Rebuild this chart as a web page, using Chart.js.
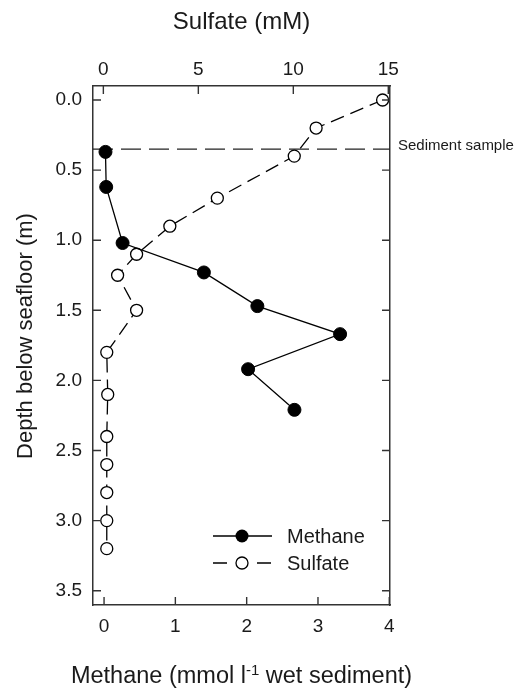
<!DOCTYPE html>
<html>
<head>
<meta charset="utf-8">
<script src="https://cdn.jsdelivr.net/npm/chart.js@4/dist/chart.umd.min.js"></script>
<style>
html,body{margin:0;padding:0;background:#fff;}
canvas{display:block;}
</style>
</head>
<body>
<canvas id="c" width="521" height="691"></canvas>
<script>
// ---- data ----
const methaneDepth = [0.37, 0.62, 1.02, 1.23, 1.47, 1.67, 1.92, 2.21];
const methaneConc  = [0.02, 0.03, 0.26, 1.40, 2.15, 3.31, 2.02, 2.67];
const sulfateDepth = [0.0, 0.2, 0.4, 0.7, 0.9, 1.1, 1.25, 1.5, 1.8, 2.1, 2.4, 2.6, 2.8, 3.0, 3.2];
const sulfateConc  = [14.7, 11.2, 10.05, 6.0, 3.5, 1.75, 0.75, 1.75, 0.18, 0.23, 0.18, 0.18, 0.18, 0.18, 0.18];
const depthTicks   = [0.0, 0.5, 1.0, 1.5, 2.0, 2.5, 3.0, 3.5];
const methaneTicks = [0, 1, 2, 3, 4];
const sulfateTicks = [0, 5, 10, 15];
const sedimentSampleDepth = 0.35;
const labels = {
  methane: 'Methane', sulfate: 'Sulfate',
  top: 'Sulfate (mM)', left: 'Depth below seafloor (m)',
  bottomA: 'Methane (mmol l', bottomSup: '-1', bottomB: ' wet sediment)',
  sample: 'Sediment sample'
};

const FONT = '"Liberation Sans", Arial, Helvetica, sans-serif';
const TXT = '#1a1a1a';
const FRAME = '#333';

const methanePts = methaneDepth.map((d, i) => ({x: methaneConc[i], y: d}));
const sulfatePts = sulfateDepth.map((d, i) => ({x: sulfateConc[i], y: d}));

const setTicks = arr => s => { s.ticks = arr.map(v => ({value: v})); };
const border = {display: true, color: FRAME, width: 1.5};
const tickFont = {family: FONT, size: 19};

const decor = {
  id: 'decor',
  beforeDatasetsDraw(chart) {
    const ctx = chart.ctx, a = chart.chartArea, y = chart.scales.y;
    const py = y.getPixelForValue(sedimentSampleDepth);
    ctx.save();
    ctx.strokeStyle = '#222'; ctx.lineWidth = 1.2; ctx.setLineDash([20, 8]);
    ctx.beginPath(); ctx.moveTo(a.left, py); ctx.lineTo(a.right, py); ctx.stroke();
    ctx.setLineDash([]);
    ctx.fillStyle = TXT; ctx.font = '15px ' + FONT; ctx.textAlign = 'left'; ctx.textBaseline = 'alphabetic';
    ctx.fillText(labels.sample, a.right + 8, py + 0.5);
    ctx.restore();
  },
  afterDraw(chart) {
    const ctx = chart.ctx, a = chart.chartArea, sc = chart.scales, L = 8;
    ctx.save();
    // inward ticks
    ctx.strokeStyle = FRAME; ctx.lineWidth = 1.4;
    ctx.beginPath();
    sc.x.ticks.forEach(t => { const p = sc.x.getPixelForValue(t.value); ctx.moveTo(p, a.bottom); ctx.lineTo(p, a.bottom - L); });
    sc.x2.ticks.forEach(t => { const p = sc.x2.getPixelForValue(t.value); ctx.moveTo(p, a.top); ctx.lineTo(p, a.top + L); });
    sc.y.ticks.forEach(t => { const p = sc.y.getPixelForValue(t.value); ctx.moveTo(a.left, p); ctx.lineTo(a.left + L, p); });
    sc.y2.ticks.forEach(t => { const p = sc.y2.getPixelForValue(t.value); ctx.moveTo(a.right, p); ctx.lineTo(a.right - L, p); });
    ctx.stroke();

    // axis titles
    ctx.fillStyle = TXT; ctx.textBaseline = 'alphabetic';
    const cx = (a.left + a.right) / 2;
    ctx.font = '24px ' + FONT; ctx.textAlign = 'center';
    ctx.fillText(labels.top, cx, 29);

    // bottom title with superscript
    const mainF = '23.5px ' + FONT, supF = '15px ' + FONT;
    ctx.font = mainF; const wA = ctx.measureText(labels.bottomA).width; const wB = ctx.measureText(labels.bottomB).width;
    ctx.font = supF; const wS = ctx.measureText(labels.bottomSup).width;
    let x0 = cx - (wA + wS + wB) / 2; const by = 683;
    ctx.textAlign = 'left';
    ctx.font = mainF; ctx.fillText(labels.bottomA, x0, by); x0 += wA;
    ctx.font = supF; ctx.fillText(labels.bottomSup, x0, by - 8); x0 += wS;
    ctx.font = mainF; ctx.fillText(labels.bottomB, x0, by);

    // left title
    ctx.save();
    ctx.translate(31.5, 336); ctx.rotate(-Math.PI / 2);
    ctx.font = '22px ' + FONT; ctx.textAlign = 'center';
    ctx.fillText(labels.left, 0, 0);
    ctx.restore();

    // legend
    const ds = chart.data.datasets;
    const lx = 242, rows = [536, 563];
    ctx.lineWidth = 1.3; ctx.strokeStyle = '#000';
    // methane row
    ctx.beginPath(); ctx.moveTo(213, rows[0]); ctx.lineTo(272, rows[0]); ctx.stroke();
    ctx.beginPath(); ctx.arc(lx, rows[0], ds[0].pointRadius, 0, Math.PI * 2); ctx.fillStyle = '#000'; ctx.fill();
    // sulfate row
    ctx.beginPath(); ctx.moveTo(213, rows[1]); ctx.lineTo(227, rows[1]); ctx.moveTo(257, rows[1]); ctx.lineTo(271, rows[1]); ctx.stroke();
    ctx.beginPath(); ctx.arc(lx, rows[1], ds[1].pointRadius, 0, Math.PI * 2); ctx.fillStyle = '#fff'; ctx.fill(); ctx.stroke();
    ctx.fillStyle = TXT; ctx.font = '20px ' + FONT; ctx.textAlign = 'left'; ctx.textBaseline = 'middle';
    ctx.fillText(ds[0].label, 287, rows[0] + 1);
    ctx.fillText(ds[1].label, 287, rows[1] + 1);
    ctx.restore();
  }
};

new Chart(document.getElementById('c'), {
  type: 'scatter',
  data: {
    datasets: [
      {
        label: labels.methane, data: methanePts, xAxisID: 'x', yAxisID: 'y',
        showLine: true, borderColor: '#000', borderWidth: 1.3,
        pointRadius: 6.5, pointBackgroundColor: '#000', pointBorderColor: '#000', pointBorderWidth: 1
      },
      {
        label: labels.sulfate, data: sulfatePts, xAxisID: 'x2', yAxisID: 'y',
        showLine: true, borderColor: '#000', borderWidth: 1.3, borderDash: [14, 7],
        pointRadius: 6, pointBackgroundColor: '#fff', pointBorderColor: '#000', pointBorderWidth: 1.3
      }
    ]
  },
  options: {
    responsive: false, animation: false, devicePixelRatio: 1,
    layout: {padding: 0},
    plugins: {legend: {display: false}, tooltip: {enabled: false}},
    scales: {
      x: {
        type: 'linear', position: 'bottom', min: -0.155, max: 4.01,
        afterBuildTicks: setTicks(methaneTicks),
        afterFit: s => { s.height = 86; },
        grid: {display: false, drawTicks: false}, border,
        ticks: {font: tickFont, color: TXT, padding: 10, maxRotation: 0, callback: v => String(v)}
      },
      x2: {
        type: 'linear', position: 'top', min: -0.545, max: 15.09,
        afterBuildTicks: setTicks(sulfateTicks),
        afterFit: s => { s.height = 86; },
        grid: {display: false, drawTicks: false}, border,
        ticks: {font: tickFont, color: TXT, padding: 5, maxRotation: 0, callback: v => String(v)}
      },
      y: {
        type: 'linear', position: 'left', reverse: true, min: -0.1, max: 3.602,
        afterBuildTicks: setTicks(depthTicks),
        afterFit: s => { s.width = 93; },
        grid: {display: false, drawTicks: false}, border,
        ticks: {font: tickFont, color: TXT, padding: 11, callback: v => Number(v).toFixed(1)}
      },
      y2: {
        type: 'linear', position: 'right', reverse: true, min: -0.1, max: 3.602,
        afterBuildTicks: setTicks(depthTicks),
        afterFit: s => { s.width = 131; },
        grid: {display: false, drawTicks: false}, border,
        ticks: {display: false}
      }
    }
  },
  plugins: [decor]
});
</script>
</body>
</html>
